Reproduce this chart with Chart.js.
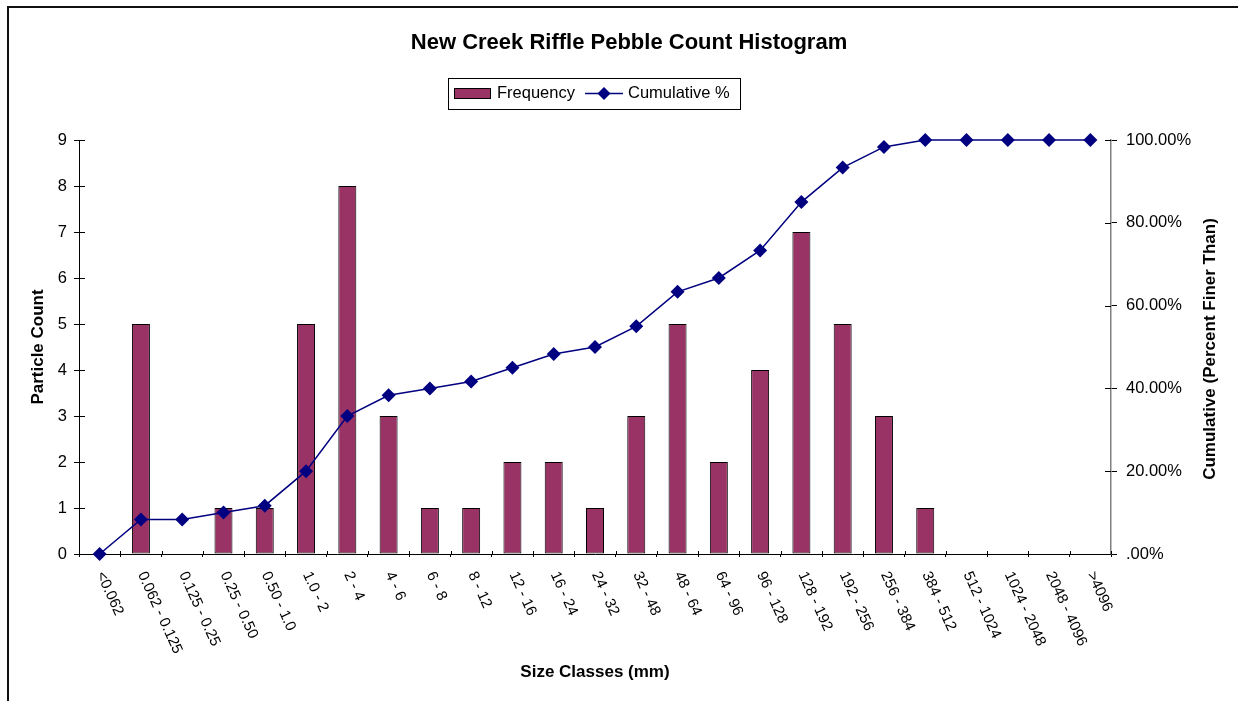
<!DOCTYPE html>
<html>
<head>
<meta charset="utf-8">
<script src="https://cdn.jsdelivr.net/npm/chart.js@4.4.1/dist/chart.umd.min.js"></script>
<style>
html,body{margin:0;padding:0;background:#fff;overflow:hidden}
#wrap{position:relative;width:1238px;height:701px}
canvas{display:block}
</style>
</head>
<body>
<div id="wrap"><canvas id="c" width="1238" height="701"></canvas></div>
<script>
// ---- data ----
const categories = ['<0.062','0.062 - 0.125','0.125 - 0.25','0.25 - 0.50','0.50 - 1.0','1.0 - 2','2 - 4','4 - 6','6 - 8','8 - 12','12 - 16','16 - 24','24 - 32','32 - 48','48 - 64','64 - 96','96 - 128','128 - 192','192 - 256','256 - 384','384 - 512','512 - 1024','1024 - 2048','2048 - 4096','>4096'];
const frequency = [0,5,0,1,1,5,8,3,1,1,2,2,1,3,5,2,4,7,5,3,1,0,0,0,0];
const cumulativePct = [0,8.33,8.33,10.00,11.67,20.00,33.33,38.33,40.00,41.67,45.00,48.33,50.00,55.00,63.33,66.67,73.33,85.00,93.33,98.33,100,100,100,100,100];
const countTickLabels = ['0','1','2','3','4','5','6','7','8','9'];
const pctTickLabels = ['.00%','20.00%','40.00%','60.00%','80.00%','100.00%'];
const chartTitle = 'New Creek Riffle Pebble Count Histogram';
const xTitle = 'Size Classes (mm)';
const yTitle = 'Particle Count';
const y1Title = 'Cumulative (Percent Finer Than)';
const seriesNames = ['Frequency','Cumulative %'];

const FONT = '"Liberation Sans", Arial, Helvetica, sans-serif';
const BAR_COLOR = '#993366';
const LINE_COLOR = '#000080';

const decor = {
  id: 'decor',
  beforeDraw(chart) {
    const ctx = chart.ctx;
    ctx.save();
    ctx.fillStyle = '#fff';
    ctx.fillRect(0, 0, chart.width, chart.height);
    ctx.strokeStyle = '#111';
    ctx.lineWidth = 2;
    ctx.beginPath();
    ctx.moveTo(8, chart.height + 4);
    ctx.lineTo(8, 7);
    ctx.lineTo(chart.width + 4, 7);
    ctx.stroke();
    ctx.restore();
  },
  afterDraw(chart) {
    const {ctx, chartArea: a, scales} = chart;
    const x = scales.x, y = scales.y, y1 = scales.y1;
    ctx.save();
    // inner halves of the crossing tick marks
    ctx.strokeStyle = '#000';
    ctx.lineWidth = 1;
    ctx.beginPath();
    y.ticks.forEach((t, i) => {
      const py = Math.round(y.getPixelForTick(i)) + 0.5;
      ctx.moveTo(a.left, py); ctx.lineTo(a.left + 6, py);
    });
    y1.ticks.forEach((t, i) => {
      const py = Math.round(y1.getPixelForTick(i)) + 0.5;
      ctx.moveTo(a.right - 6, py); ctx.lineTo(a.right, py);
    });
    for (let i = 0; i <= categories.length; i++) {
      const px = Math.round(x.getPixelForValue(i - 0.5)) + 0.5;
      ctx.moveTo(px, a.bottom); ctx.lineTo(px, a.bottom - 3);
    }
    ctx.stroke();

    // category labels, hanging down to the right
    ctx.fillStyle = '#000';
    ctx.font = '15px ' + FONT;
    ctx.textAlign = 'left';
    ctx.textBaseline = 'middle';
    categories.forEach((lab, i) => {
      const px = x.getPixelForValue(i);
      ctx.save();
      ctx.translate(px + 0.5, a.bottom + 18.5);
      ctx.rotate(65.5 * Math.PI / 180);
      ctx.fillText(lab, 0, 0);
      ctx.restore();
    });

    // right axis title (reads bottom to top)
    ctx.font = 'bold 17px ' + FONT;
    ctx.textAlign = 'center';
    ctx.save();
    ctx.translate(y1.right - 28, (a.top + a.bottom) / 2 + 2);
    ctx.rotate(-Math.PI / 2);
    ctx.fillText(y1Title, 0, 0);
    ctx.restore();

    // legend
    const lx = 448, ly = 78, lw = 292, lh = 31, cy = ly + lh / 2;
    ctx.fillStyle = '#fff';
    ctx.fillRect(lx, ly, lw, lh);
    ctx.strokeStyle = '#000';
    ctx.lineWidth = 1;
    ctx.strokeRect(lx + 0.5, ly + 0.5, lw, lh);
    ctx.fillStyle = BAR_COLOR;
    ctx.fillRect(454.5, cy - 5, 36, 10);
    ctx.strokeRect(454.5, cy - 5, 36, 10);
    ctx.font = '16.5px ' + FONT;
    ctx.textAlign = 'left';
    ctx.fillStyle = '#000';
    ctx.fillText(seriesNames[0], 497, cy);
    ctx.strokeStyle = LINE_COLOR;
    ctx.lineWidth = 1.5;
    ctx.beginPath(); ctx.moveTo(585, cy); ctx.lineTo(623, cy); ctx.stroke();
    ctx.fillStyle = LINE_COLOR;
    ctx.beginPath();
    ctx.moveTo(604, cy - 6.5); ctx.lineTo(610.5, cy); ctx.lineTo(604, cy + 6.5); ctx.lineTo(597.5, cy);
    ctx.closePath(); ctx.fill();
    ctx.fillStyle = '#000';
    ctx.fillText(seriesNames[1], 628, cy);
    ctx.restore();
  }
};

new Chart(document.getElementById('c'), {
  type: 'bar',
  data: {
    labels: categories,
    datasets: [
      {
        type: 'line',
        label: seriesNames[1],
        data: cumulativePct,
        yAxisID: 'y1',
        borderColor: LINE_COLOR,
        backgroundColor: LINE_COLOR,
        borderWidth: 1.5,
        pointStyle: 'rectRot',
        pointRadius: 7,
        pointBorderWidth: 0,
        pointBackgroundColor: LINE_COLOR,
        tension: 0,
        fill: false,
        clip: false,
        order: 0
      },
      {
        type: 'bar',
        label: seriesNames[0],
        data: frequency,
        yAxisID: 'y',
        backgroundColor: BAR_COLOR,
        borderColor: '#000',
        borderWidth: 1,
        borderSkipped: false,
        barPercentage: 0.436,
        categoryPercentage: 1,
        order: 1
      }
    ]
  },
  options: {
    responsive: false,
    animation: false,
    devicePixelRatio: 1,
    layout: {padding: {left: 20, right: 0, top: 0, bottom: 0}},
    plugins: {
      legend: {display: false},
      tooltip: {enabled: false},
      title: {
        display: true,
        text: chartTitle,
        color: '#000',
        font: {family: FONT, size: 22, weight: 'bold'},
        padding: {top: 29.3, bottom: 84.3}
      }
    },
    scales: {
      x: {
        type: 'category',
        offset: true,
        grid: {offset: true, drawOnChartArea: false, drawTicks: true, tickLength: 3, color: '#000'},
        border: {display: true, color: '#000', width: 1},
        ticks: {display: false},
        title: {display: true, text: xTitle, color: '#000', font: {family: FONT, size: 17, weight: 'bold'}, padding: {top: 0, bottom: 18}},
        afterFit(s) { s.height = 147; }
      },
      y: {
        position: 'left',
        min: 0, max: 9,
        ticks: {stepSize: 1, color: '#000', font: {family: FONT, size: 16.5}, padding: 7,
          callback: (v, i) => countTickLabels[i]},
        grid: {drawOnChartArea: false, drawTicks: true, tickLength: 5, color: '#000'},
        border: {display: true, color: '#000', width: 1},
        title: {display: true, text: yTitle, color: '#000', font: {family: FONT, size: 17, weight: 'bold'}, padding: {top: 8, bottom: 0}},
        afterFit(s) { s.width = 59; }
      },
      y1: {
        position: 'right',
        min: 0, max: 100,
        ticks: {stepSize: 20, color: '#000', font: {family: FONT, size: 16.5}, padding: 9,
          callback: (v, i) => pctTickLabels[i]},
        grid: {drawOnChartArea: false, drawTicks: true, tickLength: 6, color: '#000'},
        border: {display: true, color: '#808080', width: 1.5},
        afterFit(s) { s.width = 127; }
      }
    }
  },
  plugins: [decor]
});
</script>
</body>
</html>
